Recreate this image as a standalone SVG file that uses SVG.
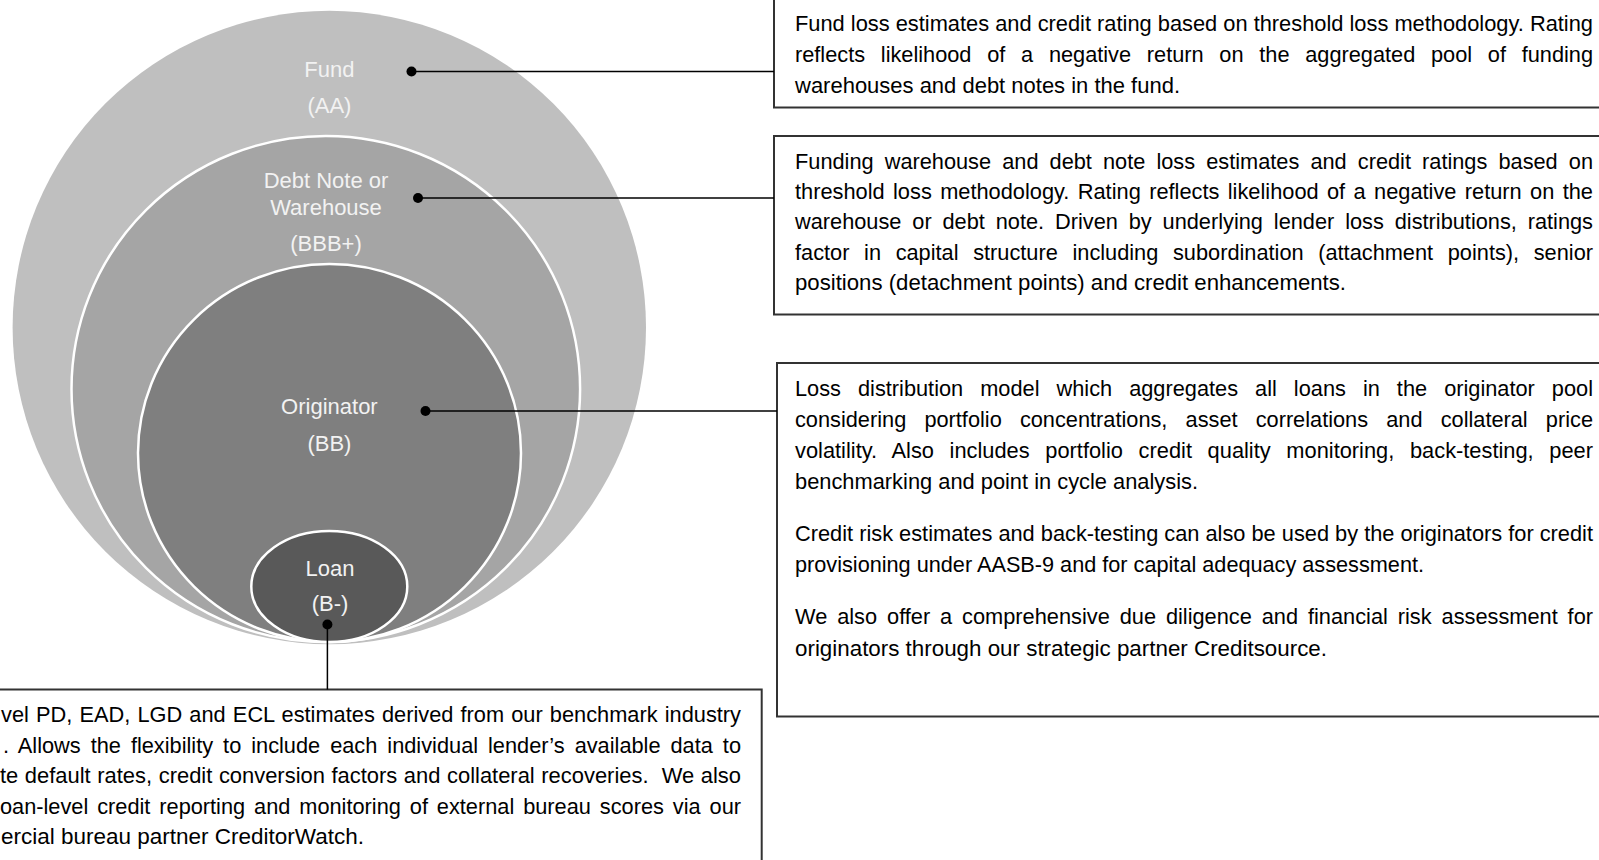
<svg xmlns="http://www.w3.org/2000/svg" width="1599" height="860" viewBox="0 0 1599 860">
  <style>
    .body { font-family: "Liberation Sans", Arial, sans-serif; font-size: 21.75px; fill: #000; }
    .lbl { font-family: "Liberation Sans", Arial, sans-serif; font-size: 22px; fill: #f2f2f2; text-anchor: middle; }
    .box { fill: #fff; stroke: #333; stroke-width: 2; }
    .ring { stroke: #fff; stroke-width: 2.5; }
    .wire { stroke: #000; stroke-width: 1.5; fill: none; }
  </style>
  <defs>
    <marker id="dot" markerUnits="userSpaceOnUse" markerWidth="12" markerHeight="12" refX="6" refY="6" orient="auto">
      <circle cx="6" cy="6" r="5" fill="#000"/>
    </marker>
  </defs>

  <rect width="1599" height="860" fill="#fff"/>

  <!-- nested rating levels -->
  <g id="fund">
    <ellipse cx="329.3" cy="327.5" rx="316.7" ry="316.7" fill="#bfbfbf"/>
    <text class="lbl" x="329.4" y="77">Fund</text>
    <text class="lbl" x="329.4" y="112.5">(AA)</text>
  </g>
  <g id="debt-note">
    <ellipse class="ring" cx="325.8" cy="389" rx="254.3" ry="253" fill="#a5a5a5"/>
    <text class="lbl" x="326" y="188">Debt Note or</text>
    <text class="lbl" x="326" y="214.5">Warehouse</text>
    <text class="lbl" x="326" y="251">(BBB+)</text>
  </g>
  <g id="originator">
    <ellipse class="ring" cx="329.5" cy="453" rx="191.5" ry="189" fill="#7f7f7f"/>
    <text class="lbl" x="329.4" y="414">Originator</text>
    <text class="lbl" x="329.4" y="451">(BB)</text>
  </g>
  <g id="loan">
    <ellipse class="ring" cx="329.3" cy="586.5" rx="78" ry="55.5" fill="#595959"/>
    <text class="lbl" x="330" y="576">Loan</text>
    <text class="lbl" x="330" y="611">(B-)</text>
  </g>

  <!-- description boxes -->
  <g id="fund-note">
    <rect class="box" x="774" y="-10" width="840" height="117.5"/>
    <text class="body" x="795" y="31" textLength="798" lengthAdjust="spacingAndGlyphs">Fund loss estimates and credit rating based on threshold loss methodology. Rating</text>
    <text class="body" x="795" y="61.5" word-spacing="9.7" textLength="798" lengthAdjust="spacingAndGlyphs">reflects likelihood of a negative return on the aggregated pool of funding</text>
    <text class="body" x="795" y="92.5" textLength="385" lengthAdjust="spacingAndGlyphs">warehouses and debt notes in the fund.</text>
  </g>

  <g id="debt-note-note">
    <rect class="box" x="774" y="136" width="840" height="178.5"/>
    <text class="body" x="795" y="168.5" word-spacing="5.06" textLength="798" lengthAdjust="spacingAndGlyphs">Funding warehouse and debt note loss estimates and credit ratings based on</text>
    <text class="body" x="795" y="199" word-spacing="2.3" textLength="798" lengthAdjust="spacingAndGlyphs">threshold loss methodology. Rating reflects likelihood of a negative return on the</text>
    <text class="body" x="795" y="229" word-spacing="4.85" textLength="798" lengthAdjust="spacingAndGlyphs">warehouse or debt note. Driven by underlying lender loss distributions, ratings</text>
    <text class="body" x="795" y="259.5" word-spacing="8.6" textLength="798" lengthAdjust="spacingAndGlyphs">factor in capital structure including subordination (attachment points), senior</text>
    <text class="body" x="795" y="290" textLength="551" lengthAdjust="spacingAndGlyphs">positions (detachment points) and credit enhancements.</text>
  </g>

  <g id="originator-note">
    <rect class="box" x="777" y="363" width="840" height="353.5"/>
    <text class="body" x="795" y="396" word-spacing="11" textLength="798" lengthAdjust="spacingAndGlyphs">Loss distribution model which aggregates all loans in the originator pool</text>
    <text class="body" x="795" y="427" word-spacing="12.1" textLength="798" lengthAdjust="spacingAndGlyphs">considering portfolio concentrations, asset correlations and collateral price</text>
    <text class="body" x="795" y="458" word-spacing="9.55" textLength="798" lengthAdjust="spacingAndGlyphs">volatility. Also includes portfolio credit quality monitoring, back-testing, peer</text>
    <text class="body" x="795" y="489" textLength="403" lengthAdjust="spacingAndGlyphs">benchmarking and point in cycle analysis.</text>
    <text class="body" x="795" y="540.5" textLength="798" lengthAdjust="spacingAndGlyphs">Credit risk estimates and back-testing can also be used by the originators for credit</text>
    <text class="body" x="795" y="572" textLength="629" lengthAdjust="spacingAndGlyphs">provisioning under AASB-9 and for capital adequacy assessment.</text>
    <text class="body" x="795" y="624" word-spacing="3.86" textLength="798" lengthAdjust="spacingAndGlyphs">We also offer a comprehensive due diligence and financial risk assessment for</text>
    <text class="body" x="795" y="655.5" textLength="532" lengthAdjust="spacingAndGlyphs">originators through our strategic partner Creditsource.</text>
  </g>

  <g id="loan-note">
    <rect class="box" x="-20" y="689.5" width="781.7" height="190"/>
    <text class="body" x="1" y="722" word-spacing="1.1" textLength="740" lengthAdjust="spacingAndGlyphs">vel PD, EAD, LGD and ECL estimates derived from our benchmark industry</text>
    <text class="body" x="3" y="752.5" word-spacing="3.9" textLength="738" lengthAdjust="spacingAndGlyphs">. Allows the flexibility to include each individual lender’s available data to</text>
    <text class="body" x="0" y="783" word-spacing="0.5" textLength="741" lengthAdjust="spacingAndGlyphs" xml:space="preserve">te default rates, credit conversion factors and collateral recoveries.  We also</text>
    <text class="body" x="0" y="813.5" word-spacing="2.9" textLength="741" lengthAdjust="spacingAndGlyphs">oan-level credit reporting and monitoring of external bureau scores via our</text>
    <text class="body" x="1" y="844" textLength="363" lengthAdjust="spacingAndGlyphs">ercial bureau partner CreditorWatch.</text>
  </g>

  <!-- leader lines from each level to its description -->
  <g id="connectors">
    <line class="wire" x1="411.5" y1="71.5" x2="774" y2="71.5" marker-start="url(#dot)"/>
    <line class="wire" x1="418" y1="198" x2="774" y2="198" marker-start="url(#dot)"/>
    <line class="wire" x1="425.5" y1="411" x2="777" y2="411" marker-start="url(#dot)"/>
    <line class="wire" x1="327.4" y1="624.5" x2="327.4" y2="689.5" marker-start="url(#dot)"/>
  </g>
</svg>
